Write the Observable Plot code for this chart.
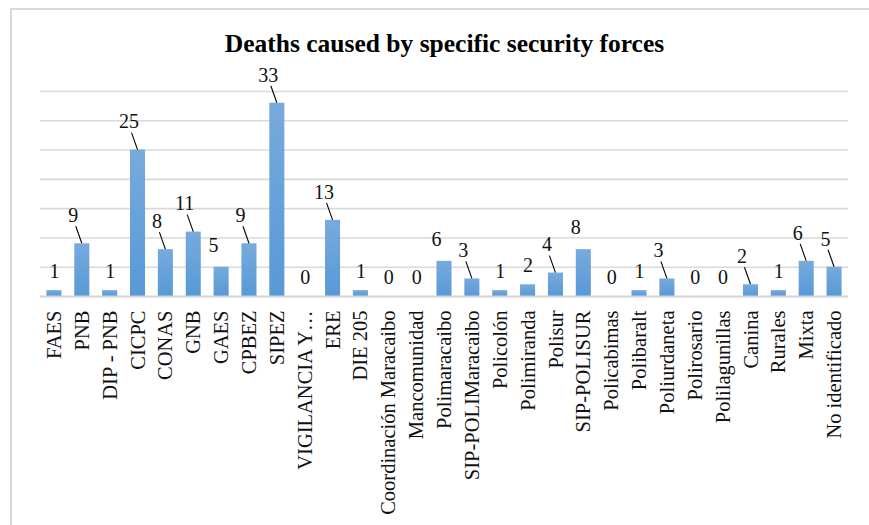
<!DOCTYPE html>
<html>
<head>
<meta charset="utf-8">
<script src="https://cdn.jsdelivr.net/npm/d3@7"></script>
<script src="https://cdn.jsdelivr.net/npm/@observablehq/plot@0.6"></script>
<style>
  html, body { margin: 0; padding: 0; background: #fff; overflow: hidden; }
  #wrap { position: relative; width: 869px; height: 525px; }
  #border { position: absolute; left: 10px; top: 8px; width: 900px; height: 600px;
            border: 2px solid #d9d9d9; box-sizing: border-box; }
  #chart { position: absolute; left: 0; top: 0; }
</style>
</head>
<body>
<div id="wrap"><div id="border"></div><div id="chart"></div></div>
<script>
const title = "Deaths caused by specific security forces";
const categories = [
  "FAES", "PNB", "DIP - PNB", "CICPC", "CONAS", "GNB", "GAES", "CPBEZ", "SIPEZ",
  "VIGILANCIA Y…", "ERE", "DIE 205", "Coordinación Maracaibo", "Mancomunidad",
  "Polimaracaibo", "SIP-POLIMaracaibo", "Policolón", "Polimiranda", "Polisur",
  "SIP-POLISUR", "Policabimas", "Polibaralt", "Poliurdaneta", "Polirosario",
  "Polilagunillas", "Canina", "Rurales", "Mixta", "No identificado"
];
const deaths = [1, 9, 1, 25, 8, 11, 5, 9, 33, 0, 13, 1, 0, 0, 6, 3, 1, 2, 4, 8, 0, 1, 3, 0, 0, 2, 1, 6, 5];
// data label placement style: "above" (centered), "shifted" (left, no line), "leader" (left with leader line)
const labelStyle = [
  "above", "leader", "above", "leader", "leader", "leader", "shifted", "leader", "leader",
  "above", "leader", "above", "above", "above", "shifted", "leader", "above", "above", "leader",
  "shifted", "above", "above", "leader", "above", "above", "leader", "above", "leader", "leader"
];
const yGrid = [5, 10, 15, 20, 25, 30, 35];

const rows = categories.map((c, i) => ({cat: c, val: deaths[i], style: labelStyle[i]}));

const font = "'Liberation Serif', 'DejaVu Serif', serif";

const defsMark = () => {
  const defs = d3.create("svg:defs");
  const g = defs.append("linearGradient").attr("id", "barGrad")
    .attr("x1", 0).attr("y1", 0).attr("x2", 0).attr("y2", 1);
  g.append("stop").attr("offset", "0%").attr("stop-color", "#78aadc");
  g.append("stop").attr("offset", "100%").attr("stop-color", "#5799d8");
  return defs.node();
};

const leaderMark = (index, scales) => {
  const g = d3.create("svg:g").attr("stroke", "#000").attr("stroke-width", 1.1);
  const bw = scales.x.bandwidth();
  rows.filter(d => d.style === "leader").forEach(d => {
    const x = scales.x(d.cat) + bw / 2;
    const y = scales.y(d.val);
    g.append("line").attr("x1", x).attr("y1", y).attr("x2", x - 6).attr("y2", y - 17);
  });
  return g.node();
};

const plot = Plot.plot({
  width: 869,
  height: 525,
  marginLeft: 40,
  marginRight: 21,
  marginTop: 91,
  marginBottom: 229,
  style: {fontFamily: font, background: "transparent", overflow: "visible"},
  x: {type: "band", domain: categories, paddingInner: 0.46, paddingOuter: 0.23, round: false, axis: null},
  y: {domain: [0, 35], axis: null},
  marks: [
    defsMark,
    Plot.ruleY(yGrid, {stroke: "#d9d9d9", strokeWidth: 1.6}),
    Plot.barY(rows, {x: "cat", y: "val", fill: "url(#barGrad)"}),
    Plot.ruleY([0], {stroke: "#d4d4d4", strokeWidth: 2.2}),
    leaderMark,
    Plot.text(rows.filter(d => d.style === "above"), {
      x: "cat", y: "val", text: d => String(d.val), dy: -19,
      fontSize: 20, fill: "#111", lineAnchor: "middle"
    }),
    Plot.text(rows.filter(d => d.style === "shifted"), {
      x: "cat", y: "val", text: d => String(d.val), dx: -8, dy: -22,
      fontSize: 20, fill: "#111", lineAnchor: "middle"
    }),
    Plot.text(rows.filter(d => d.style === "leader"), {
      x: "cat", y: "val", text: d => String(d.val), dx: -9, dy: -28,
      fontSize: 20, fill: "#111", lineAnchor: "middle"
    }),
    Plot.text(categories, {
      x: d => d, frameAnchor: "bottom", dy: 14, rotate: -90,
      textAnchor: "end", lineAnchor: "middle", fontSize: 20.5, fill: "#111"
    }),
    Plot.text([title], {
      frameAnchor: "top", dy: -48, fontSize: 25.5, fontWeight: "bold", fill: "#000",
      lineAnchor: "middle"
    })
  ]
});
document.getElementById("chart").appendChild(plot);
</script>
</body>
</html>
